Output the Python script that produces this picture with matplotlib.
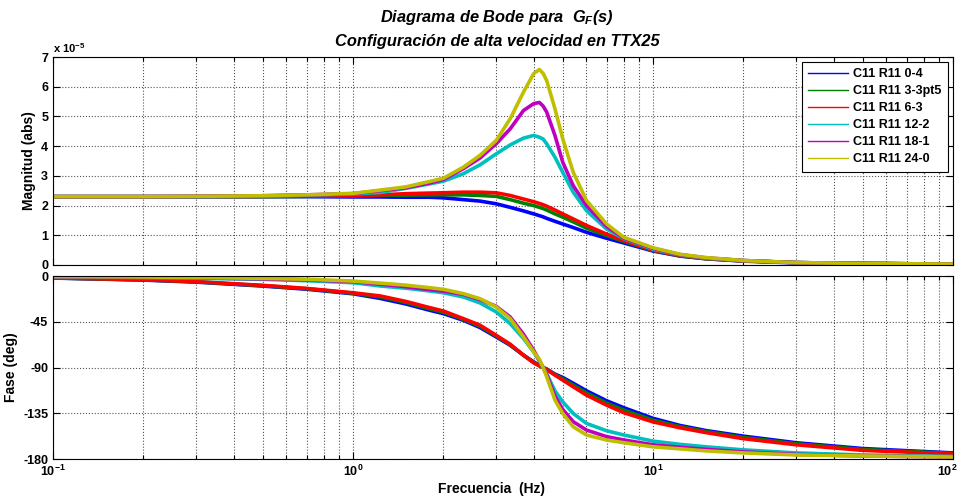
import matplotlib
matplotlib.use("Agg")
import matplotlib.pyplot as plt
import matplotlib.transforms as mtransforms
import numpy as np
from matplotlib.lines import Line2D

plt.rcParams['font.family'] = ['Liberation Sans', 'DejaVu Sans']
plt.rcParams['mathtext.fontset'] = 'custom'
plt.rcParams['mathtext.rm'] = 'Liberation Sans:bold'
plt.rcParams['mathtext.it'] = 'Liberation Sans:bold:italic'

# frecuencias (Hz) comunes a todas las curvas
freq = [0.1, 0.2, 0.3, 0.5, 0.7, 1.0, 1.23, 1.5, 1.8, 2.0, 2.33, 2.65, 3.0, 3.34,
        3.7, 4.0, 4.18, 4.3, 4.42, 4.71, 5.0, 5.42, 6.0, 7.0, 8.0, 10, 12.3, 15,
        20, 30, 50, 100]

nombres = ['C11 R11 0-4', 'C11 R11 3-3pt5', 'C11 R11 6-3',
           'C11 R11 12-2', 'C11 R11 18-1', 'C11 R11 24-0']
colores = ['#0000ff', '#008000', '#ff0000', '#00bfbf', '#bf00bf', '#bfbf00']

# magnitud en unidades de 1e-5
mag_0_4 = [2.30, 2.30, 2.30, 2.30, 2.30, 2.29, 2.29, 2.28, 2.28, 2.26, 2.20, 2.15,
           2.06, 1.94, 1.82, 1.72, 1.66, 1.62, 1.57, 1.47, 1.38, 1.26, 1.10, 0.90,
           0.74, 0.47, 0.30, 0.21, 0.13, 0.07, 0.05, 0.03]
mag_3_3pt5 = [2.30, 2.30, 2.30, 2.30, 2.31, 2.32, 2.34, 2.35, 2.36, 2.36, 2.36, 2.34,
              2.31, 2.20, 2.08, 2.00, 1.94, 1.90, 1.85, 1.72, 1.61, 1.45, 1.24, 0.99,
              0.79, 0.49, 0.31, 0.21, 0.14, 0.08, 0.05, 0.03]
mag_6_3 = [2.30, 2.30, 2.30, 2.31, 2.32, 2.33, 2.36, 2.40, 2.42, 2.43, 2.45, 2.45,
           2.43, 2.34, 2.22, 2.13, 2.07, 2.03, 1.98, 1.85, 1.72, 1.55, 1.33, 1.04,
           0.82, 0.50, 0.32, 0.22, 0.14, 0.08, 0.05, 0.03]
mag_12_2 = [2.30, 2.30, 2.30, 2.32, 2.35, 2.39, 2.44, 2.58, 2.73, 2.82, 3.07, 3.37,
            3.74, 4.04, 4.27, 4.36, 4.30, 4.24, 4.08, 3.63, 3.12, 2.45, 1.83, 1.21,
            0.88, 0.53, 0.34, 0.23, 0.15, 0.08, 0.05, 0.03]
mag_18_1 = [2.30, 2.30, 2.31, 2.33, 2.36, 2.40, 2.50, 2.60, 2.76, 2.88, 3.24, 3.60,
            4.08, 4.58, 5.20, 5.43, 5.47, 5.35, 5.15, 4.36, 3.46, 2.67, 2.00, 1.30,
            0.90, 0.56, 0.35, 0.24, 0.15, 0.08, 0.05, 0.03]
mag_24_0 = [2.30, 2.30, 2.31, 2.33, 2.36, 2.41, 2.52, 2.63, 2.81, 2.92, 3.29, 3.69,
            4.19, 4.92, 5.82, 6.44, 6.58, 6.45, 6.21, 5.26, 4.25, 3.12, 2.17, 1.38,
            0.93, 0.58, 0.36, 0.25, 0.15, 0.08, 0.05, 0.03]

# fase en grados
fase_0_4 = [-2.0, -4.0, -6.0, -9.9, -13.0, -17.5, -22.0, -27.5, -33.7, -37.0, -43.5,
            -50.7, -59.9, -68.1, -77.9, -84.4, -88.0, -90.0, -91.5, -96.5, -99.8,
            -105.5, -112.9, -122.7, -129.6, -140.0, -147.0, -152.0, -157.5, -164.0,
            -169.7, -174.0]
fase_3_3pt5 = [-1.9, -3.8, -5.7, -9.5, -12.5, -17.0, -20.5, -26.0, -32.3, -35.6, -42.6,
               -49.5, -59.0, -67.6, -77.9, -85.0, -88.2, -90.0, -91.8, -97.0, -101.0,
               -107.3, -115.0, -125.0, -132.0, -141.8, -148.2, -153.0, -158.8, -165.0,
               -170.6, -174.5]
fase_6_3 = [-1.8, -3.7, -5.5, -9.2, -12.2, -16.5, -19.6, -25.0, -31.1, -34.4, -41.9,
            -48.4, -58.3, -67.1, -77.9, -85.4, -88.3, -90.0, -92.0, -97.5, -102.4,
            -109.0, -117.2, -127.0, -134.5, -143.5, -149.3, -154.0, -160.0, -166.0,
            -171.5, -175.0]
fase_12_2 = [-0.8, -1.5, -2.2, -3.3, -4.6, -6.6, -9.8, -12.0, -14.7, -16.5, -20.6,
             -26.5, -35.3, -46.8, -61.5, -74.6, -83.5, -90.0, -96.0, -113.0, -123.7,
             -135.2, -145.0, -152.2, -156.4, -162.4, -165.6, -168.0, -171.0, -174.0,
             -176.0, -177.5]
fase_18_1 = [-0.6, -1.2, -1.8, -2.8, -3.8, -5.5, -8.0, -10.5, -13.4, -14.8, -18.0,
             -23.2, -29.8, -40.3, -57.3, -73.0, -83.0, -90.0, -97.0, -118.0, -131.2,
             -143.3, -151.5, -158.0, -161.3, -166.0, -168.5, -170.5, -173.0, -175.5,
             -177.0, -178.0]
fase_24_0 = [-0.5, -1.0, -1.5, -2.3, -3.2, -5.0, -7.0, -9.0, -11.5, -13.1, -17.3,
             -22.3, -30.4, -41.9, -59.9, -74.6, -82.0, -90.0, -99.0, -122.0, -135.2,
             -148.3, -156.4, -161.3, -164.0, -168.0, -170.0, -172.0, -174.0, -176.0,
             -177.0, -178.0]

magnitudes = [mag_0_4, mag_3_3pt5, mag_6_3, mag_12_2, mag_18_1, mag_24_0]
fases = [fase_0_4, fase_3_3pt5, fase_6_3, fase_12_2, fase_18_1, fase_24_0]

fig = plt.figure(figsize=(9.61, 5.01), dpi=100)
ax1 = fig.add_axes([0.0552, 0.4711, 0.9365, 0.4151])
ax2 = fig.add_axes([0.0552, 0.0838, 0.9365, 0.3653])

for m, p, c in zip(magnitudes, fases, colores):
    ax1.plot(freq, np.array(m) * 1e-5, color=c, lw=2.6, solid_joinstyle='round')
    ax2.plot(freq, p, color=c, lw=2.6, solid_joinstyle='round')

for ax in (ax1, ax2):
    ax.set_xscale('log')
    ax.set_xlim(0.1, 100)
    ax.grid(True, which='major', ls=':', color='#555555', lw=0.8)
    ax.grid(True, which='minor', axis='x', ls=':', color='#555555', lw=0.8)
    ax.tick_params(which='both', direction='in', top=True, right=True,
                   labelsize=9, width=0.8)
    ax.tick_params(which='major', length=5)
    ax.tick_params(which='minor', length=3)
    for s in ax.spines.values():
        s.set_linewidth(0.8)

# magnitud
ax1.set_ylim(0, 7e-5)
yt = [0, 1, 2, 3, 4, 5, 6, 7]
ax1.set_yticks([v * 1e-5 for v in yt])
ax1.set_yticklabels([str(v) for v in yt], fontweight='bold')
ax1.tick_params(axis='x', labelbottom=False)
ax1.set_ylabel('Magnitud (abs)', fontsize=10, fontweight='bold')
ax1.text(0.0, 1.012, r'x 10$^{-5}$', transform=ax1.transAxes, fontsize=8,
         fontweight='bold', ha='left', va='bottom')

handles = [Line2D([], [], color=c, lw=1.0) for c in colores]
leg = ax1.legend(handles, nombres, loc='upper right', fancybox=False,
                 edgecolor='black', framealpha=1, handlelength=3.2,
                 borderaxespad=0.4, labelspacing=0.4, handletextpad=0.4,
                 borderpad=0.5, prop={'weight': 'bold', 'size': 9})
leg.get_frame().set_linewidth(0.8)

# fase
ax2.set_ylim(-180, 0)
ax2.set_yticks([0, -45, -90, -135, -180])
ax2.set_yticklabels(['0', '-45', '-90', '-135', '-180'], fontweight='bold')
ax2.set_ylabel('Fase (deg)', fontsize=10, fontweight='bold')
ax2.set_xlabel('Frecuencia  (Hz)', fontsize=10, fontweight='bold')
ax2.xaxis.set_label_coords(0.487, -0.125)

fig.canvas.draw()
xlbls = ax2.get_xticklabels()
for lbl in xlbls:
    lbl.set_fontweight('bold')
# el ultimo rotulo (10^2) se corre un poco a la izquierda para que no se corte
shift = mtransforms.ScaledTranslation(-6 / 100, 0, fig.dpi_scale_trans)
for lbl in xlbls:
    if lbl.get_position()[0] >= 99:
        lbl.set_transform(lbl.get_transform() + shift)

fig.text(0.517, 0.966, r'Diagrama de Bode para  $G_F$(s)', ha='center', va='center',
         fontsize=11.8, fontweight='bold', style='italic')
fig.text(0.517, 0.918, 'Configuración de alta velocidad en TTX25', ha='center',
         va='center', fontsize=11.8, fontweight='bold', style='italic')

fig.savefig('out.png', dpi=100)
